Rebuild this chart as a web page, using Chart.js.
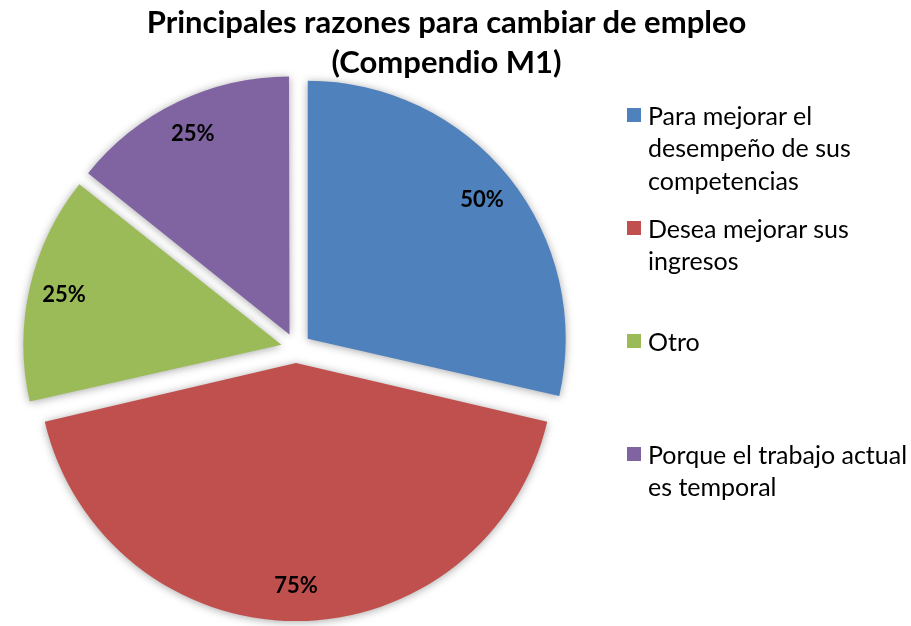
<!DOCTYPE html>
<html><head><meta charset="utf-8">
<script src="https://cdn.jsdelivr.net/npm/chart.js@4.4.0/dist/chart.umd.min.js"></script>
<style>
html,body{margin:0;padding:0;background:#fff;}
#wrap{position:relative;width:911px;height:626px;overflow:hidden;font-family:Lato,'Open Sans',sans-serif;}
#c{position:absolute;left:0;top:0;}
#title{position:absolute;left:0;width:893px;top:1px;text-align:center;font-weight:bold;font-size:31px;line-height:40px;color:#000;}
.item{position:absolute;left:648px;font-size:25px;line-height:32.5px;color:#000;white-space:nowrap;}
.mark{position:absolute;width:14px;height:14px;left:627px;}
</style></head>
<body><div id="wrap"><canvas id="c" width="911" height="626"></canvas><div id="title"></div><div id="legend"></div></div>
<script>
const titleLines = ['Principales razones para cambiar de empleo', '(Compendio M1)'];
const categories = [
  ['Para mejorar el', 'desempeño de sus', 'competencias'],
  ['Desea mejorar sus', 'ingresos'],
  ['Otro'],
  ['Porque el trabajo actual', 'es temporal']
];
const values = [50, 75, 25, 25];
const valueLabels = ['50%', '75%', '25%', '25%'];
const colors = ['#4F81BD', '#C0504D', '#9BBB59', '#8064A2'];

const EXPLODE = 60;   // Chart.js arc offset (moves each slice by offset/4)
const RADIUS = 258;

document.getElementById('title').innerHTML = titleLines.join('<br>');
const legend = document.getElementById('legend');
categories.forEach((lines, i) => {
  const cy = 115 + i * 113;
  const m = document.createElement('div');
  m.className = 'mark';
  m.style.top = (cy - 7) + 'px';
  m.style.background = colors[i];
  legend.appendChild(m);
  const t = document.createElement('div');
  t.className = 'item';
  t.style.top = (cy - 16.25) + 'px';
  t.innerHTML = lines.join('<br>');
  legend.appendChild(t);
});

// keep all slices at the same drawn radius (Chart.js grows exploded arcs slightly)
const radiusFix = {
  id: 'radiusFix',
  afterDatasetsUpdate(chart) {
    const meta = chart.getDatasetMeta(0);
    meta.data.forEach(arc => {
      const circ = arc.circumference;
      const fix = 1 - Math.sin(Math.min(Math.PI, circ || 0));
      arc.outerRadius = RADIUS - (EXPLODE / 4) * fix;
    });
  }
};
const shadowPlugin = {
  id: 'shadow',
  beforeDatasetsDraw(chart) {
    const ctx = chart.ctx;
    ctx.save();
    ctx.shadowColor = 'rgba(0,0,0,0.35)';
    ctx.shadowBlur = 8;
    ctx.shadowOffsetX = 0;
    ctx.shadowOffsetY = 1;
  },
  afterDatasetsDraw(chart) {
    chart.ctx.restore();
  }
};
const labelPlugin = {
  id: 'vlabels',
  afterDraw(chart) {
    const ctx = chart.ctx;
    const meta = chart.getDatasetMeta(0);
    ctx.save();
    ctx.font = 'bold 22px Lato, "Open Sans", sans-serif';
    ctx.fillStyle = '#000';
    ctx.textAlign = 'center';
    ctx.textBaseline = 'middle';
    meta.data.forEach((arc, i) => {
      const mid = (arc.startAngle + arc.endAngle) / 2;
      const d = RADIUS * 0.922;
      ctx.fillText(valueLabels[i], arc.x + Math.cos(mid) * d, arc.y + Math.sin(mid) * d);
    });
    ctx.restore();
  }
};

new Chart(document.getElementById('c'), {
  type: 'pie',
  data: {
    labels: categories.map(l => l.join(' ')),
    datasets: [{
      data: values,
      backgroundColor: colors,
      borderWidth: 0,
      offset: EXPLODE,
      hoverOffset: 0
    }]
  },
  options: {
    responsive: false,
    animation: false,
    events: [],
    radius: RADIUS,
    layout: { padding: { left: 0, right: 319, top: 70, bottom: 0 } },
    plugins: { legend: { display: false }, tooltip: { enabled: false }, title: { display: false } }
  },
  plugins: [radiusFix, shadowPlugin, labelPlugin]
});
</script>
</body></html>
